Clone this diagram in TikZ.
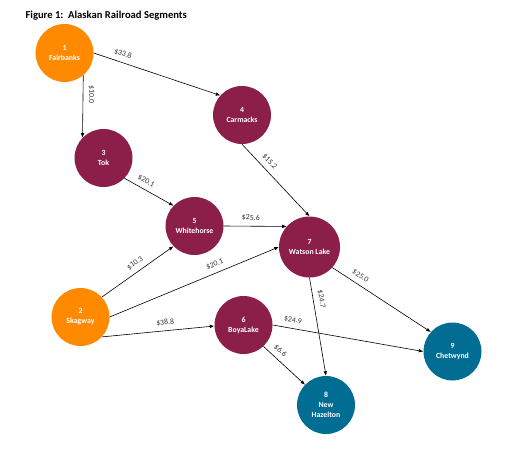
\documentclass[tikz,border=0pt]{standalone}
\usepackage{fontspec}
\setmainfont{Carlito}
\usetikzlibrary{arrows.meta}
\definecolor{cOrange}{HTML}{FF8A00}
\definecolor{cMaroon}{HTML}{8B1F4A}
\definecolor{cTeal}{HTML}{016D92}
\definecolor{cLabel}{HTML}{333333}
\begin{document}
\begin{tikzpicture}[x=1pt,y=1pt,
  city/.style={circle, minimum size=58pt, inner sep=0pt, text=white, align=center,
    font=\fontsize{7.8}{10}\selectfont\bfseries},
  orangecity/.style={city, fill=cOrange},
  marooncity/.style={city, fill=cMaroon},
  tealcity/.style={city, fill=cTeal},
  rail/.style={draw=black, line width=0.6pt, -{Latex[length=4.5pt,width=3.6pt]}},
  cost/.style={sloped, above=4pt, inner sep=1pt, text=cLabel,
    font=\fontsize{7.8}{8}\selectfont}
]
\useasboundingbox (0,0) rectangle (530,-455);
\node[anchor=base west, font=\fontsize{10.6}{12}\selectfont\bfseries] (title) at (22,-18.5)
  {Figure 1:\ \ Alaskan Railroad Segments};

\node[orangecity] (n1) at (64.5,-53) {1\\Fairbanks};
\node[orangecity] (n2) at (80.5,-317) {2\\Skagway};
\node[marooncity] (n3) at (103.5,-158) {3\\Tok};
\node[marooncity] (n4) at (242,-115) {4\\Carmacks};
\node[marooncity] (n5) at (194.5,-226) {5\\Whitehorse};
\node[marooncity] (n6) at (243.5,-325) {6\\BoyaLake};
\node[marooncity, minimum size=61pt] (n7) at (309.5,-247) {7\\Watson Lake};
\node[tealcity] (n8) at (326,-405) {8\\New\\Hazelton};
\node[tealcity] (n9) at (452.5,-351.5) {9\\Chetwynd};

\draw[rail] (n1.-50) -- node[cost, allow upside down, pos=0.31] {\$10.0} (n3.136);
\draw[rail] (n1.0) -- node[cost, pos=0.21] {\$33.8} (n4.138);
\draw[rail] (n3.-44) -- node[cost, pos=0.36] {\$20.1} (n5.136);
\draw[rail] (n4.-90) -- node[cost, pos=0.32] {\$15.2} (n7.90);
\draw[rail] (n5.0) -- node[cost, pos=0.43] {\$25.6} (n7.138);
\draw[rail] (n2.43) -- node[cost, pos=0.53] {\$10.3} (n5.224);
\draw[rail] (n2.0) -- node[cost, pos=0.64] {\$20.1} (n7.180);
\draw[rail] (n2.-43) -- node[cost, pos=0.57] {\$38.8} (n6.182);
\draw[rail] (n6.0) -- node[cost, pos=0.125] {\$24.9} (n9.180);
\draw[rail] (n6.-47) -- node[cost, pos=0.27] {\$6.6} (n8.136);
\draw[rail] (n7.-90) -- node[cost, pos=0.23] {\$24.7} (n8.90);
\draw[rail] (n7.-42) -- node[cost, pos=0.24] {\$25.0} (n9.138);
\end{tikzpicture}
\end{document}
